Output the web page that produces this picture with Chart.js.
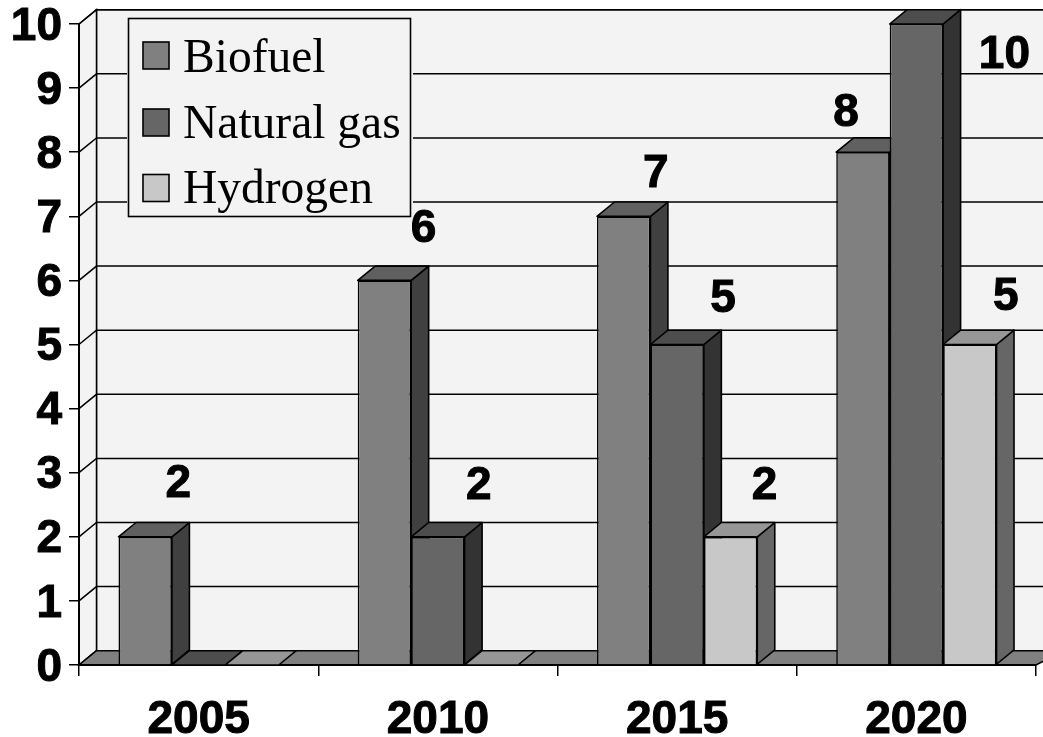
<!DOCTYPE html>
<html>
<head>
<meta charset="utf-8">
<title>Fuel chart</title>
<style>
    html, body { margin: 0; padding: 0; background: #fff; overflow: hidden; }
    canvas { display: block; }
</style>
<script src="https://cdn.jsdelivr.net/npm/chart.js@4/dist/chart.umd.min.js"></script>
</head>
<body>
<canvas id="fuel-chart" width="1043" height="737"></canvas>
<script>
    var years = ["2005", "2010", "2015", "2020"];
    var biofuel = [2, 6, 7, 8];
    var naturalGas = [0, 2, 5, 10];
    var hydrogen = [0, 0, 2, 5];

    // depth of the fake 3d box, in pixels
    var depthX = 17.5;
    var depthY = 14.3;
    var wallColor = "#f3f3f3";
    var floorColor = "#808080";
    var lineColor = "#000";
    var numberFamily = "'Liberation Sans', Arial, sans-serif";

    // top and side faces of each series
    var faceColors = [
        { top: "#606060", side: "#404040" },
        { top: "#4d4d4d", side: "#333333" },
        { top: "#969696", side: "#666666" }
    ];

    // where each value label sits relative to the top of its bar [dx, dy]
    var labelNudge = [
        [[33, -52], [39, -51], [32, -42], [-17, -39]],
        [null, [41, -50], [46, -45], [88, 31]],
        [null, null, [34, -50], [36, -47]]
    ];

    function poly(ctx, pts, fill) {
        ctx.beginPath();
        ctx.moveTo(pts[0][0], pts[0][1]);
        for (var i = 1; i < pts.length; i++) {
            ctx.lineTo(pts[i][0], pts[i][1]);
        }
        ctx.closePath();
        ctx.fillStyle = fill;
        ctx.fill();
        ctx.stroke();
    }

    var box3d = {
        id: "box3d",
        // the y numbers sit a little under their ticks
        afterLayout: function (chart) {
            chart.scales.y.getLabelItems(chart.chartArea).forEach(function (item) {
                item.options.translation[1] += 3;
            });
        },
        // back wall, side wall, grid and floor
        beforeDraw: function (chart) {
            var ctx = chart.ctx;
            var area = chart.chartArea;
            var yScale = chart.scales.y;
            var farRight = chart.width + 20;
            ctx.save();
            ctx.strokeStyle = lineColor;
            ctx.lineWidth = 1.5;
            poly(ctx, [
                [area.left + depthX, area.top - depthY],
                [farRight, area.top - depthY],
                [farRight, area.bottom - depthY],
                [area.left + depthX, area.bottom - depthY]
            ], wallColor);
            poly(ctx, [
                [area.left, area.top],
                [area.left + depthX, area.top - depthY],
                [area.left + depthX, area.bottom - depthY],
                [area.left, area.bottom]
            ], wallColor);
            yScale.ticks.forEach(function (tick) {
                var y = yScale.getPixelForValue(tick.value);
                ctx.beginPath();
                ctx.moveTo(area.left, y);
                ctx.lineTo(area.left + depthX, y - depthY);
                ctx.lineTo(farRight, y - depthY);
                ctx.stroke();
            });
            poly(ctx, [
                [area.left, area.bottom],
                [area.left + depthX, area.bottom - depthY],
                [farRight, area.bottom - depthY],
                [area.right, area.bottom]
            ], floorColor);
            ctx.restore();
        },
        // side and top of the bars, left to right so they overlap properly
        beforeDatasetsDraw: function (chart) {
            var ctx = chart.ctx;
            ctx.save();
            ctx.strokeStyle = lineColor;
            ctx.lineWidth = 1.6;
            ctx.lineJoin = "round";
            for (var c = 0; c < years.length; c++) {
                for (var d = 0; d < chart.data.datasets.length; d++) {
                    var bar = chart.getDatasetMeta(d).data[c];
                    var l = bar.x - bar.width / 2;
                    var r = bar.x + bar.width / 2;
                    if (bar.base - bar.y > 0) {
                        poly(ctx, [
                            [r, bar.y],
                            [r + depthX, bar.y - depthY],
                            [r + depthX, bar.base - depthY],
                            [r, bar.base]
                        ], faceColors[d].side);
                    }
                    poly(ctx, [
                        [l, bar.y],
                        [l + depthX, bar.y - depthY],
                        [r + depthX, bar.y - depthY],
                        [r, bar.y]
                    ], faceColors[d].top);
                }
            }
            ctx.restore();
        },
        // legend box and value labels
        afterDatasetsDraw: function (chart) {
            var ctx = chart.ctx;
            ctx.save();

            ctx.fillStyle = wallColor;
            ctx.fillRect(127, 17, 286, 201);
            ctx.strokeStyle = lineColor;
            ctx.lineWidth = 1.6;
            ctx.strokeRect(128.5, 18.5, 282, 198);

            var swatchTop = [42, 109, 174.5];
            var textBase = [71.5, 137.5, 202.5];
            ctx.font = "47.5px 'Liberation Serif', 'Times New Roman', serif";
            ctx.textAlign = "left";
            ctx.textBaseline = "alphabetic";
            chart.data.datasets.forEach(function (ds, i) {
                ctx.fillStyle = ds.backgroundColor;
                ctx.fillRect(143, swatchTop[i], 26, 27);
                ctx.strokeRect(143, swatchTop[i], 26, 27);
                ctx.fillStyle = "#000";
                ctx.fillText(ds.label, 183, textBase[i]);
            });

            ctx.font = "bold 46px " + numberFamily;
            ctx.textAlign = "center";
            ctx.textBaseline = "middle";
            ctx.fillStyle = "#000";
            ctx.strokeStyle = "#000";
            ctx.lineWidth = 1;
            chart.data.datasets.forEach(function (ds, d) {
                chart.getDatasetMeta(d).data.forEach(function (bar, c) {
                    var nudge = labelNudge[d][c];
                    if (ds.data[c] > 0 && nudge) {
                        ctx.fillText(String(ds.data[c]), bar.x + nudge[0], bar.y + nudge[1]);
                        ctx.strokeText(String(ds.data[c]), bar.x + nudge[0], bar.y + nudge[1]);
                    }
                });
            });
            ctx.restore();
        }
    };

    var ctx1 = document.getElementById("fuel-chart").getContext("2d");
    var myChart1 = new Chart(ctx1, {
        type: "bar",
        data: {
            labels: years,
            datasets: [{
                label: "Biofuel",
                data: biofuel,
                backgroundColor: "#808080"
            },
            {
                label: "Natural gas",
                data: naturalGas,
                backgroundColor: "#666666"
            },
            {
                label: "Hydrogen",
                data: hydrogen,
                backgroundColor: "#c8c8c8"
            }]
        },
        options: {
            responsive: false,
            animation: false,
            events: [],
            layout: { autoPadding: false, padding: { top: 24, right: 7, left: 0, bottom: 0 } },
            datasets: {
                bar: {
                    borderColor: "#000",
                    borderWidth: 1.6,
                    categoryPercentage: 0.67,
                    barPercentage: 1,
                    clip: false
                }
            },
            plugins: {
                legend: { display: false },
                tooltip: { enabled: false }
            },
            scales: {
                x: {
                    afterFit: function (scale) {
                        scale.height = 72;
                        scale.paddingLeft = 0;
                        scale.paddingRight = 0;
                    },
                    grid: { offset: true, drawOnChartArea: false, tickLength: 11, color: "#000", lineWidth: 1.5 },
                    border: { color: "#000", width: 2 },
                    ticks: {
                        color: "#000",
                        padding: 17,
                        maxRotation: 0,
                        textStrokeColor: "#000",
                        textStrokeWidth: 1,
                        font: { family: numberFamily, size: 46, weight: "bold" }
                    }
                },
                y: {
                    min: 0,
                    max: 10,
                    afterFit: function (scale) {
                        scale.width = 79;
                        // labels may hang over the top, the layout should not make room for that
                        scale.paddingTop = 0;
                        scale.paddingBottom = 0;
                    },
                    grid: { drawOnChartArea: false, tickLength: 10, color: "#000", lineWidth: 1.5 },
                    border: { color: "#000", width: 2 },
                    ticks: {
                        stepSize: 1,
                        color: "#000",
                        padding: 7,
                        textStrokeColor: "#000",
                        textStrokeWidth: 1,
                        font: { family: numberFamily, size: 46, weight: "bold" }
                    }
                }
            }
        },
        plugins: [box3d]
    });
</script>
</body>
</html>
